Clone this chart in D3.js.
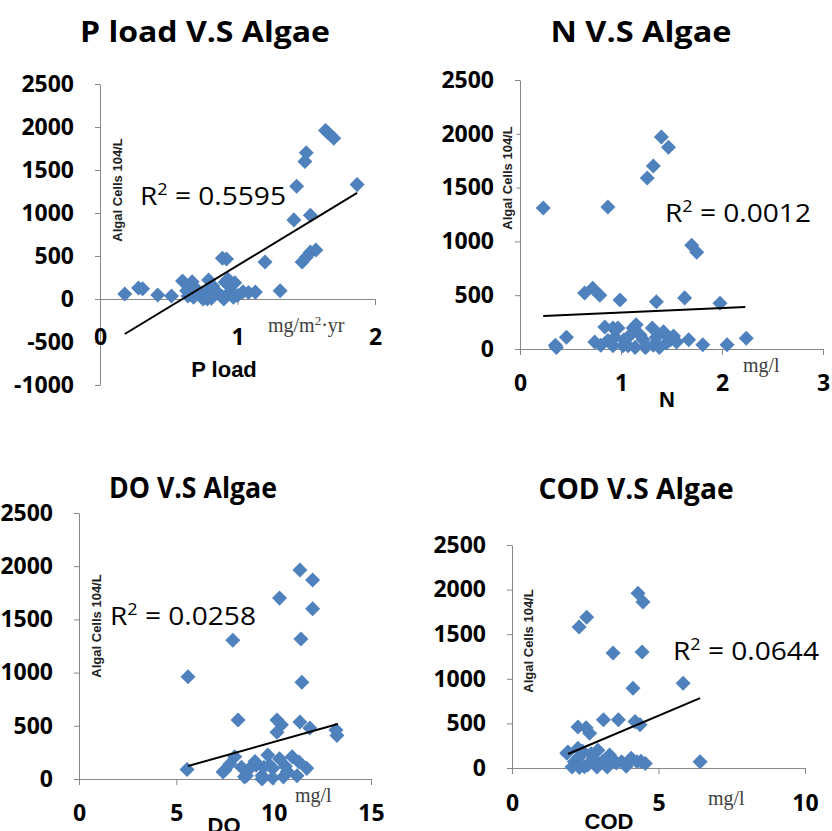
<!DOCTYPE html>
<meta charset="utf-8">
<style>
body { margin: 0; background: #fff; }
svg { display: block; }
.axis path, .axis line { stroke: #868686; stroke-width: 1px; }
.axis text { font-family: "Open Sans"; font-weight: 700; font-size: 23px; fill: #000; }
.title { font-family: "Open Sans"; font-weight: 700; font-size: 28px; fill: #000; }
.r2 { font-family: "Open Sans"; font-size: 25px; fill: #000; }
.ytitle { font-family: "Liberation Sans"; font-weight: 700; font-size: 13px; fill: #222; }
.unit { font-family: "Liberation Serif"; font-size: 20px; fill: #404040; }
.xname { font-family: "Liberation Sans"; font-weight: 700; font-size: 22px; fill: #000; }
</style>
<svg width="832" height="831"></svg>
<script src="https://cdn.jsdelivr.net/npm/d3@7"></script>
<script>
// P load vs algae
const pLoadX = [0.18, 0.28, 0.31, 0.42, 0.52, 0.60, 0.67, 0.79, 0.89, 0.92, 1.20, 1.31, 0.63, 0.68, 0.73, 0.75, 0.79, 0.81, 0.85, 0.89, 0.91, 0.95, 0.98, 1.00, 1.04, 1.13, 1.41, 1.43, 1.49, 1.50, 1.53, 1.47, 1.50, 1.53, 1.57, 1.64, 1.66, 1.70, 1.87, 0.70, 0.78, 0.82, 0.90, 0.97, 0.93, 1.08, 0.64];
const pLoadY = [58, 128, 120, 47, 35, 210, 200, 220, 475, 465, 430, 95, 95, 20, 60, 0, 115, 10, 85, 25, 195, 90, 190, 40, 85, 80, 920, 1310, 1600, 1700, 975, 430, 485, 545, 570, 1960, 1930, 1870, 1330, 115, 0, 150, 0, 20, 230, 75, 35];
const pLoadTrendX = [0.18, 1.87];
const pLoadTrendY = [-407, 1233];

// N vs algae
const nX = [0.23, 0.87, 0.35, 0.36, 0.46, 0.64, 0.72, 0.79, 0.99, 1.35, 1.63, 1.98, 1.26, 1.32, 1.40, 1.47, 1.70, 1.75, 0.74, 0.84, 0.87, 0.97, 1.02, 1.07, 1.12, 1.14, 1.22, 1.31, 1.35, 1.38, 1.42, 1.49, 1.52, 1.67, 1.81, 2.05, 2.24, 0.92, 1.07, 1.25, 0.80, 0.94, 1.03, 1.19, 1.24, 1.32, 1.45, 1.55, 0.92, 1.15];
const nY = [1310, 1320, 35, 15, 110, 520, 565, 500, 455, 440, 475, 425, 1590, 1700, 1970, 1875, 965, 900, 65, 205, 80, 195, 30, 110, 195, 15, 85, 195, 110, 15, 160, 85, 120, 85, 40, 40, 100, 30, 30, 20, 35, 110, 85, 130, 15, 35, 55, 65, 195, 225];
const nTrendX = [0.23, 2.23];
const nTrendY = [307, 390];

// DO vs algae
const doX = [5.6, 5.55, 7.9, 8.17, 10.3, 11.35, 12.0, 12.0, 11.4, 11.45, 10.17, 10.4, 10.17, 11.35, 11.86, 13.2, 13.25, 7.5, 8.0, 8.35, 8.6, 9.04, 9.4, 9.7, 9.95, 10.3, 10.7, 10.95, 11.2, 11.7, 7.75, 9.5, 7.4, 8.5, 9.4, 9.95, 10.5, 9.1, 9.8, 10.6, 11.3, 8.8];
const doY = [960, 90, 1305, 555, 1700, 1965, 1870, 1600, 1315, 910, 555, 510, 440, 535, 480, 460, 410, 85, 210, 110, 30, 165, 30, 225, 100, 190, 70, 210, 30, 100, 140, 110, 65, 20, 0, 10, 20, 130, 130, 120, 160, 105];
const doTrendX = [5.6, 13.3];
const doTrendY = [122, 517];

// COD vs algae
const codX = [2.29, 2.55, 3.45, 4.44, 4.3, 4.47, 4.13, 5.84, 6.42, 2.25, 2.53, 2.65, 3.12, 3.63, 4.2, 4.37, 1.91, 2.13, 2.25, 2.47, 2.7, 2.93, 3.1, 3.33, 3.56, 3.9, 4.07, 4.4, 2.58, 2.3, 1.87, 2.05, 2.3, 2.9, 3.25, 3.46, 3.74, 4.27, 4.55, 2.78, 2.4];
const codY = [1580, 1690, 1290, 1300, 1960, 1860, 895, 950, 70, 460, 450, 390, 540, 540, 520, 485, 180, 70, 220, 15, 160, 200, 75, 145, 55, 20, 110, 75, 35, 5, 165, 10, 125, 10, 10, 90, 70, 70, 50, 110, 190];
const codTrendX = [1.91, 6.42];
const codTrendY = [157, 784];

const titles = ["P load  V.S Algae", "N  V.S Algae", "DO V.S Algae", "COD  V.S Algae"];
const r2Values = ["0.5595", "0.0012", "0.0258", "0.0644"];
const xNames = ["P load", "N", "DO", "COD"];
const units = ["mg/m2·yr", "mg/l", "mg/l", "mg/l"];
const yTitle = "Algal Cells 104/L";
const yTicksP = [-1000, -500, 0, 500, 1000, 1500, 2000, 2500];
const yTicks = [0, 500, 1000, 1500, 2000, 2500];

const panels = [
  { xs: pLoadX, ys: pLoadY, tx: pLoadTrendX, ty: pLoadTrendY, xDomain: [0, 2], xTicks: [0, 1, 2], yDomain: [-1000, 2500], yTicks: yTicksP,
    xRange: [100, 375], yRange: [385, 84], title: [205, 42, 250], r2: [140, 205], yt: [117, 190], unit: [268, 332], xn: [224, 377], xLab: 38 },
  { xs: nX, ys: nY, tx: nTrendX, ty: nTrendY, xDomain: [0, 3], xTicks: [0, 1, 2, 3], yDomain: [0, 2500], yTicks: yTicks,
    xRange: [520, 823], yRange: [349, 80], title: [641, 42, 181], r2: [665, 222], yt: [507, 178], unit: [743, 372], xn: [667, 407], xLab: 34 },
  { xs: doX, ys: doY, tx: doTrendX, ty: doTrendY, xDomain: [0, 15], xTicks: [0, 5, 10, 15], yDomain: [0, 2500], yTicks: yTicks,
    xRange: [79, 371], yRange: [779, 513], title: [193, 498, 168], r2: [110, 625], yt: [96, 626], unit: [295, 802], xn: [224, 833], xLab: 34 },
  { xs: codX, ys: codY, tx: codTrendX, ty: codTrendY, xDomain: [0, 10], xTicks: [0, 5, 10], yDomain: [0, 2500], yTicks: yTicks,
    xRange: [512, 805], yRange: [768, 545], title: [636, 499, 195], r2: [673, 660], yt: [528, 641], unit: [708, 805], xn: [609, 829], xLab: 35 }
];

const svg = d3.select("svg");
const diamond = d3.symbol(d3.symbolSquare, 113);
const fmt = function(d) { return String(d); };

panels.forEach(function(p, i) {
  const x = d3.scaleLinear().domain(p.xDomain).range(p.xRange);
  const y = d3.scaleLinear().domain(p.yDomain).range(p.yRange);
  const g = svg.append("g");

  // title
  g.append("text").attr("class", "title")
    .attr("x", p.title[0]).attr("y", p.title[1])
    .attr("text-anchor", "middle")
    .attr("textLength", p.title[2]).attr("lengthAdjust", "spacingAndGlyphs")
    .text(titles[i]);

  // y axis
  g.append("g").attr("class", "axis")
    .attr("transform", "translate(" + p.xRange[0] + ",0)")
    .call(d3.axisLeft(y).tickValues(p.yTicks).tickFormat(fmt).tickSize(5).tickSizeOuter(0).tickPadding(21));

  // x axis at y = 0, labels pushed below
  const xa = g.append("g").attr("class", "axis")
    .attr("transform", "translate(0," + y(0) + ")")
    .call(d3.axisBottom(x).tickValues(p.xTicks).tickFormat(fmt).tickSize(6).tickSizeOuter(0));
  xa.selectAll("text").attr("y", p.xLab).attr("dy", "0.35em");

  // y axis title with white box
  const yg = g.append("g").attr("transform", "translate(" + p.yt[0] + "," + p.yt[1] + ") rotate(-90)");
  const yb = yg.append("rect").attr("fill", "#fff");
  const ytxt = yg.append("text").attr("class", "ytitle")
    .attr("text-anchor", "middle").attr("dy", "0.35em").text(yTitle);
  const bb = ytxt.node().getBBox();
  yb.attr("x", bb.x - 4).attr("y", bb.y - 6).attr("width", bb.width + 8).attr("height", bb.height + 8);

  // points
  g.append("g").selectAll("path")
    .data(p.xs.map(function(v, k) { return [v, p.ys[k]]; }))
    .enter().append("path")
    .attr("d", diamond)
    .attr("transform", function(d) { return "translate(" + x(d[0]) + "," + y(d[1]) + ") rotate(45)"; })
    .attr("fill", "#4F81BD");

  // trend line
  g.append("line")
    .attr("x1", x(p.tx[0])).attr("y1", y(p.ty[0]))
    .attr("x2", x(p.tx[1])).attr("y2", y(p.ty[1]))
    .attr("stroke", "#000").attr("stroke-width", 2);

  // R squared
  const r = g.append("text").attr("class", "r2").attr("x", p.r2[0]).attr("y", p.r2[1])
    .attr("textLength", 146).attr("lengthAdjust", "spacingAndGlyphs");
  r.append("tspan").text("R");
  r.append("tspan").attr("font-size", "16px").attr("dy", -10).text("2");
  r.append("tspan").attr("dy", 10).text(" = " + r2Values[i]);

  // unit
  const u = g.append("text").attr("class", "unit").attr("x", p.unit[0]).attr("y", p.unit[1]);
  if (i === 0) {
    u.append("tspan").text("mg/m");
    u.append("tspan").attr("font-size", "13px").attr("dy", -7).text("2");
    u.append("tspan").attr("dy", 7).text("·yr");
  } else {
    u.text(units[i]);
  }

  // x axis name
  g.append("text").attr("class", "xname")
    .attr("x", p.xn[0]).attr("y", p.xn[1]).attr("text-anchor", "middle")
    .text(xNames[i]);
});
</script>
